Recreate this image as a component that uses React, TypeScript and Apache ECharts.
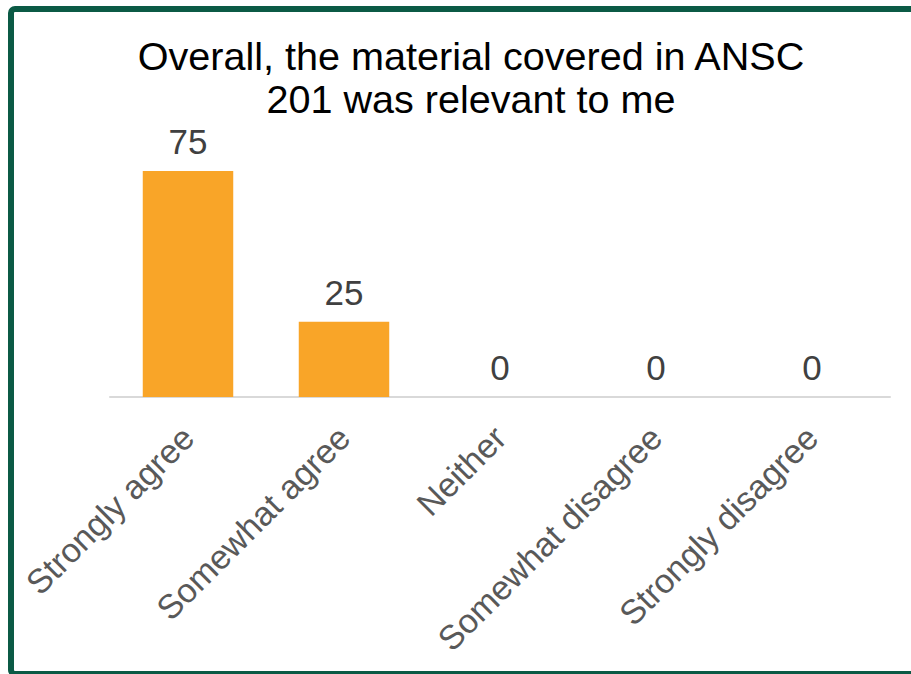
import React, { useEffect, useRef } from "react";
import * as echarts from "echarts";

const categories = ["Strongly agree", "Somewhat agree", "Neither", "Somewhat disagree", "Strongly disagree"];
const values = [75, 25, 0, 0, 0];
const titleLines = ["Overall, the material covered in ANSC", "201 was relevant to me"];

export default function App() {
  const ref = useRef<HTMLDivElement>(null);
  useEffect(() => {
    if (!ref.current) return;
    const chart = echarts.init(ref.current, null, { renderer: "svg" });
    chart.setOption({
      animation: false,
      backgroundColor: "#ffffff",
      graphic: [
        {
          type: "rect",
          shape: { x: 11, y: 9, width: 1000, height: 665, r: 4 },
          style: { fill: "none", stroke: "#0b5a45", lineWidth: 6 },
          silent: true,
        },
        {
          type: "text",
          x: 471,
          y: 34,
          style: {
            text: titleLines.join("\n"),
            fill: "#000000",
            font: "39.6px 'Liberation Sans', Arial, sans-serif",
            align: "center",
            lineHeight: 43,
          },
        },
      ],
      grid: { left: 110, right: 21, top: 156, bottom: 277, containLabel: false },
      xAxis: {
        type: "category",
        data: categories,
        axisLine: { lineStyle: { color: "#d9d9d9", width: 2 } },
        axisTick: { show: false },
        axisLabel: {
          rotate: 45,
          margin: 35,
          color: "#595959",
          fontSize: 34,
          fontFamily: "'Liberation Sans', Arial, sans-serif",
          interval: 0,
        },
      },
      yAxis: {
        type: "value",
        min: 0,
        max: 80,
        show: false,
        splitLine: { show: false },
      },
      series: [
        {
          type: "bar",
          data: values,
          barWidth: "58%",
          itemStyle: { color: "#f9a528" },
          label: {
            show: true,
            position: "top",
            distance: 12,
            color: "#404040",
            fontSize: 35,
            fontFamily: "'Liberation Sans', Arial, sans-serif",
          },
        },
      ],
    });
    return () => chart.dispose();
  }, []);
  return <div ref={ref} style={{ position: "absolute", left: 0, top: 0, width: 911, height: 674 }} />;
}
